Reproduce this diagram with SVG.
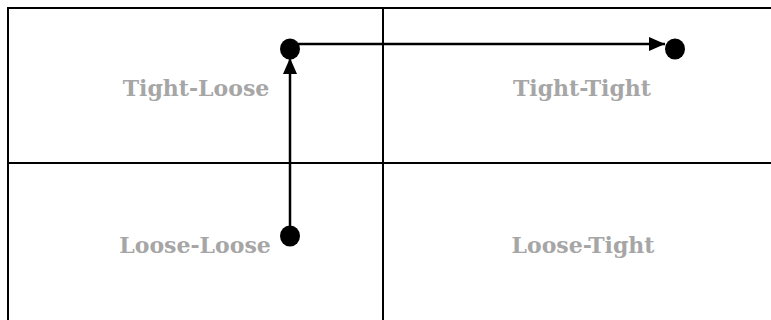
<svg xmlns="http://www.w3.org/2000/svg" width="771" height="320" viewBox="0 0 771 320">
<style>
.grid{stroke:#000;stroke-width:2;fill:none}
.lbl{font-family:"DejaVu Serif","Liberation Serif",serif;font-weight:bold;font-size:22px;fill:#a6a6a6;text-anchor:middle}
.conn{stroke:#000;stroke-width:2.5;fill:none}
.dot{fill:#000}
</style>
<defs>
<marker id="ahl" markerWidth="16" markerHeight="14" refX="16" refY="7" orient="auto" markerUnits="userSpaceOnUse">
<path d="M0,0 L16,7 L0,14 Z" fill="#000"/>
</marker>
</defs>
<g id="frame">
<path class="grid" d="M8,320 V8 H771"/>
<path class="grid" d="M383,8 V320"/>
<path class="grid" d="M8,163 H771"/>
</g>
<g id="tight-loose"><text class="lbl" x="196" y="96">Tight-Loose</text></g>
<g id="tight-tight"><text class="lbl" x="582" y="96">Tight-Tight</text></g>
<g id="loose-loose"><text class="lbl" x="195" y="253">Loose-Loose</text></g>
<g id="loose-tight"><text class="lbl" x="583" y="253">Loose-Tight</text></g>
<g id="dots">
<ellipse class="dot" cx="290" cy="236" rx="10" ry="10.5"/>
<ellipse class="dot" cx="290" cy="49" rx="10" ry="10.5"/>
<ellipse class="dot" cx="675" cy="49" rx="10" ry="10.5"/>
</g>
<g id="connectors">
<line class="conn" x1="290" y1="236" x2="290" y2="58" marker-end="url(#ahl)"/>
<line class="conn" x1="298" y1="44" x2="665" y2="44" marker-end="url(#ahl)"/>
</g>
</svg>
